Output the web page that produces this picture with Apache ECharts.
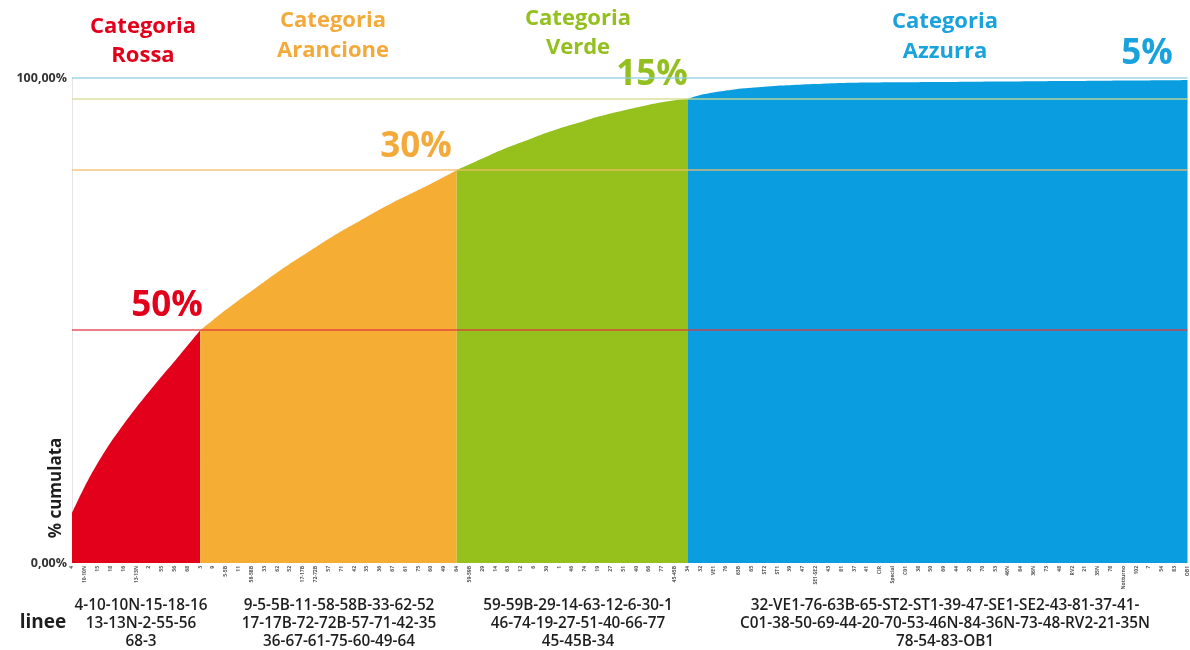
<!DOCTYPE html>
<html><head><meta charset="utf-8">
<script src="https://cdn.jsdelivr.net/npm/echarts@6/dist/echarts.min.js"></script>
<style>html,body{margin:0;padding:0;background:#fff}#c{width:1190px;height:650px}</style>
</head><body><div id="c"></div>
<script>
// Tick labels (bus lines) per category
const tickRossa = ["4","10-10N","15","18","16","13-13N","2","55","56","68","3"];
const tickArancione = ["9","5-5B","11","58-58B","33","62","52","17-17B","72-72B","57","71","42","35","36","67","61","75","60","49","64"];
const tickVerde = ["59-59B","29","14","63","12","6","30","1","46","74","19","27","51","40","66","77","45-45B","34"];
const tickAzzurra = ["32","VE1","76","63B","65","ST2","ST1","39","47","SE1-SE2","43","81","37","41","CIR","Special","C01","38","50","69","44","20","70","53","46N","84","36N","73","48","RV2","21","35N","78","Notturno","102","7","54","83","OB1"];

// Cumulative percentages
const cumRossa = [10.3, 15.8, 20.6, 24.8, 28.5, 32.0, 35.3, 38.5, 41.6, 44.8, 48.0];
const cumArancione = [50.1, 52.2, 54.2, 56.1, 58.0, 59.9, 61.7, 63.4, 65.1, 66.8, 68.4, 69.9, 71.4, 72.9, 74.3, 75.6, 76.9, 78.2, 79.6, 81.0];
const cumVerde = [82.2, 83.4, 84.6, 85.7, 86.7, 87.7, 88.7, 89.6, 90.4, 91.2, 92.0, 92.7, 93.3, 93.9, 94.5, 95.0, 95.4, 95.7];
const cumAzzurra = [96.5, 97.0, 97.4, 97.8, 98.0, 98.2, 98.4, 98.5, 98.65, 98.75, 98.85, 98.95, 99.0, 99.05, 99.08, 99.1, 99.12, 99.14, 99.16, 99.18, 99.2, 99.22, 99.24, 99.26, 99.28, 99.3, 99.32, 99.34, 99.36, 99.38, 99.4, 99.42, 99.44, 99.46, 99.48, 99.5, 99.52, 99.55, 99.6];

// Threshold lines
const soglie = [48.0, 81.0, 95.7, 100];

// Texts
const titoliCategorie = [["Categoria","Rossa"],["Categoria","Arancione"],["Categoria","Verde"],["Categoria","Azzurra"]];
const quote = ["50%","30%","15%","5%"];
const lineeRossa = ["4-10-10N-15-18-16","13-13N-2-55-56","68-3"];
const lineeArancione = ["9-5-5B-11-58-58B-33-62-52","17-17B-72-72B-57-71-42-35","36-67-61-75-60-49-64"];
const lineeVerde = ["59-59B-29-14-63-12-6-30-1","46-74-19-27-51-40-66-77","45-45B-34"];
const lineeAzzurra = ["32-VE1-76-63B-65-ST2-ST1-39-47-SE1-SE2-43-81-37-41-","C01-38-50-69-44-20-70-53-46N-84-36N-73-48-RV2-21-35N","78-54-83-OB1"];

const colori = ['#e2001a','#f6ad33','#96c11c','#0a9ee0'];
const coloriTitolo = ['#e2001a','#f4aa3a','#93c01f','#1aa2dc'];
const coloriSoglie = ['#e2353f','#f2bb6a','#d6da8c','#8ccde8'];

const categorie = [].concat(tickRossa, tickArancione, tickVerde, tickAzzurra);
const N = categorie.length;

function pad(start, arr) {
  const out = new Array(N).fill(null);
  arr.forEach((v, i) => { out[start + i] = v; });
  return out;
}
const iA = tickRossa.length;             // first orange index
const iV = iA + tickArancione.length;    // first green index
const iZ = iV + tickVerde.length;        // first blue index

const dataRossa = pad(0, cumRossa);
const dataArancione = pad(iA - 1, [cumRossa[cumRossa.length-1]].concat(cumArancione));
const dataVerde = pad(iV - 1, [cumArancione[cumArancione.length-1]].concat(cumVerde));
const dataAzzurra = pad(iZ - 1, [cumVerde[cumVerde.length-1]].concat(cumAzzurra));

function areaSeries(name, data, color, extra) {
  return Object.assign({
    name, type: 'line', data, smooth: 0.25, symbol: 'none', connectNulls: false,
    lineStyle: { width: 0 }, itemStyle: { color },
    areaStyle: { color, opacity: 1 }, z: 2
  }, extra || {});
}

const FF = '"Open Sans", "DejaVu Sans", sans-serif';
const graphics = [];
const titlePos = [[143, 27, 56], [333, 21, 51], [578, 19, 48], [945, 22, 52]];
titoliCategorie.forEach((t, k) => {
  graphics.push({ type:'text', style:{ x:titlePos[k][0], y:titlePos[k][1], text:t[0], fill:coloriTitolo[k], font:'bold 22px ' + FF, textAlign:'center', textVerticalAlign:'middle' }});
  graphics.push({ type:'text', style:{ x:titlePos[k][0], y:titlePos[k][2], text:t[1], fill:coloriTitolo[k], font:'bold 22px ' + FF, textAlign:'center', textVerticalAlign:'middle' }});
});
const quotePos = [[167, 306], [416, 147], [652, 75], [1147, 54]];
quote.forEach((q, k) => {
  graphics.push({ type:'text', style:{ x:quotePos[k][0], y:quotePos[k][1], text:q, fill:coloriTitolo[k], font:'bold 35px ' + FF, textAlign:'center', textVerticalAlign:'middle' }});
});
const gruppi = [lineeRossa, lineeArancione, lineeVerde, lineeAzzurra];
const gruppiX = [141, 339, 578, 945];
gruppi.forEach((g, k) => {
  g.forEach((txt, j) => {
    graphics.push({ type:'text', style:{ x:gruppiX[k], y:606 + j*18, text:txt, fill:'#1e1e1e', font:'600 15.3px ' + FF, textAlign:'center', textVerticalAlign:'middle' }});
  });
});
graphics.push({ type:'text', style:{ x:43, y:623, text:'linee', fill:'#1e1e1e', font:'bold 19px ' + FF, textAlign:'center', textVerticalAlign:'middle' }});
graphics.push({ type:'text', rotation: Math.PI/2, x:56, y:488, style:{ x:0, y:0, text:'% cumulata', fill:'#1e1e1e', font:'bold 17px ' + FF, textAlign:'center', textVerticalAlign:'middle' }});

const chart = echarts.init(document.getElementById('c'), null, { renderer: 'canvas' });
chart.setOption({
  animation: false,
  backgroundColor: '#ffffff',
  grid: { left: 72, right: 2, top: 78, bottom: 87, containLabel: false },
  xAxis: {
    type: 'category', data: categorie, boundaryGap: false,
    axisLine: { show: false }, axisTick: { show: false },
    axisLabel: { interval: 0, rotate: 90, fontSize: 5, color: '#555', margin: 3, fontFamily: FF, fontWeight: 'bold' },
    splitLine: { show: false }
  },
  yAxis: {
    type: 'value', min: 0, max: 100, interval: 100,
    axisLine: { show: true, lineStyle: { color: '#e4e4e4', width: 1 } },
    axisTick: { show: false },
    splitLine: { show: false },
    axisLabel: { color: '#333', fontSize: 12.5, fontWeight: 'bold', fontFamily: FF, margin: 5,
      formatter: v => v.toFixed(2).replace('.', ',') + '%' }
  },
  series: [
    areaSeries('Categoria Rossa', dataRossa, colori[0]),
    areaSeries('Categoria Arancione', dataArancione, colori[1]),
    areaSeries('Categoria Verde', dataVerde, colori[2]),
    areaSeries('Categoria Azzurra', dataAzzurra, colori[3], {
      markLine: {
        silent: true, symbol: 'none', label: { show: false },
        data: soglie.map((s, k) => ({ yAxis: s, lineStyle: { color: coloriSoglie[k], width: 1.5, type: 'solid', opacity: 0.85 } }))
      }
    })
  ],
  graphic: graphics
});
</script></body></html>
